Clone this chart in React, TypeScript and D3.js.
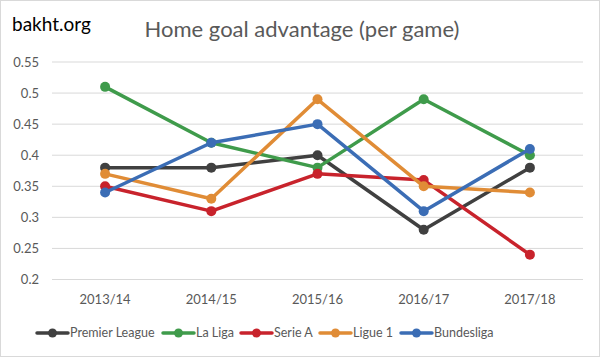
import React from "react";
import * as d3 from "d3";

const seasons = ["2013/14", "2014/15", "2015/16", "2016/17", "2017/18"];
const yTicks = [0.2, 0.25, 0.3, 0.35, 0.4, 0.45, 0.5, 0.55];
const premierLeague = [0.38, 0.38, 0.4, 0.28, 0.38];
const laLiga = [0.51, 0.42, 0.38, 0.49, 0.4];
const serieA = [0.35, 0.31, 0.37, 0.36, 0.24];
const ligue1 = [0.37, 0.33, 0.49, 0.35, 0.34];
const bundesliga = [0.34, 0.42, 0.45, 0.31, 0.41];

const seriesNames = ["Premier League", "La Liga", "Serie A", "Ligue 1", "Bundesliga"];
const seriesValues = [premierLeague, laLiga, serieA, ligue1, bundesliga];
const colors = ["#404040", "#3f9b4b", "#c8232c", "#e08c36", "#3b6db5"];

const W = 600, H = 357;
const font = "Lato, 'Open Sans', sans-serif";

export default function App() {
  const x = d3.scaleBand<string>().domain(seasons).range([52, 583]);
  const y = d3.scaleLinear().domain([0.2, 0.55]).range([279.5, 62]);
  const line = d3
    .line<number>()
    .x((_, i) => (x(seasons[i]) as number) + x.bandwidth() / 2)
    .y((d) => y(d));

  const legendX = [37, 163, 241, 320, 401];
  const legendY = 333;

  return (
    <div style={{ position: "absolute", left: 0, top: 0 }}>
      <svg width={W} height={H} style={{ display: "block", background: "#fff" }}>
        <rect x={0.5} y={0.5} width={W - 1} height={H - 1} fill="#fff" stroke="#d9d9d9" />
        <text x={12} y={31} fontFamily={font} fontSize={19} fill="#000">bakht.org</text>
        <text x={302} y={37} textAnchor="middle" fontFamily={font} fontSize={22} fill="#595959">
          Home goal advantage (per game)
        </text>
        {yTicks.map((t) => (
          <g key={t}>
            <line x1={52} x2={583} y1={y(t)} y2={y(t)} stroke="#d9d9d9" strokeWidth={1} />
            <text x={39} y={y(t)} dy="0.35em" textAnchor="end" fontFamily={font} fontSize={13} fill="#595959">
              {String(t)}
            </text>
          </g>
        ))}
        {seasons.map((s) => (
          <text key={s} x={(x(s) as number) + x.bandwidth() / 2} y={304} textAnchor="middle" fontFamily={font} fontSize={13} fill="#595959">
            {s}
          </text>
        ))}
        {seriesValues.map((vals, si) => (
          <g key={seriesNames[si]}>
            <path d={line(vals) || ""} fill="none" stroke={colors[si]} strokeWidth={3.5} strokeLinejoin="round" strokeLinecap="round" />
            {vals.map((v, i) => (
              <circle key={i} cx={(x(seasons[i]) as number) + x.bandwidth() / 2} cy={y(v)} r={5} fill={colors[si]} />
            ))}
          </g>
        ))}
        {seriesNames.map((n, si) => (
          <g key={n}>
            <line x1={legendX[si]} x2={legendX[si] + 31} y1={legendY} y2={legendY} stroke={colors[si]} strokeWidth={3.5} strokeLinecap="round" />
            <circle cx={legendX[si] + 15.5} cy={legendY} r={4.5} fill={colors[si]} />
            <text x={legendX[si] + 33} y={legendY} dy="0.35em" fontFamily={font} fontSize={12.5} fill="#595959">
              {n}
            </text>
          </g>
        ))}
      </svg>
    </div>
  );
}
